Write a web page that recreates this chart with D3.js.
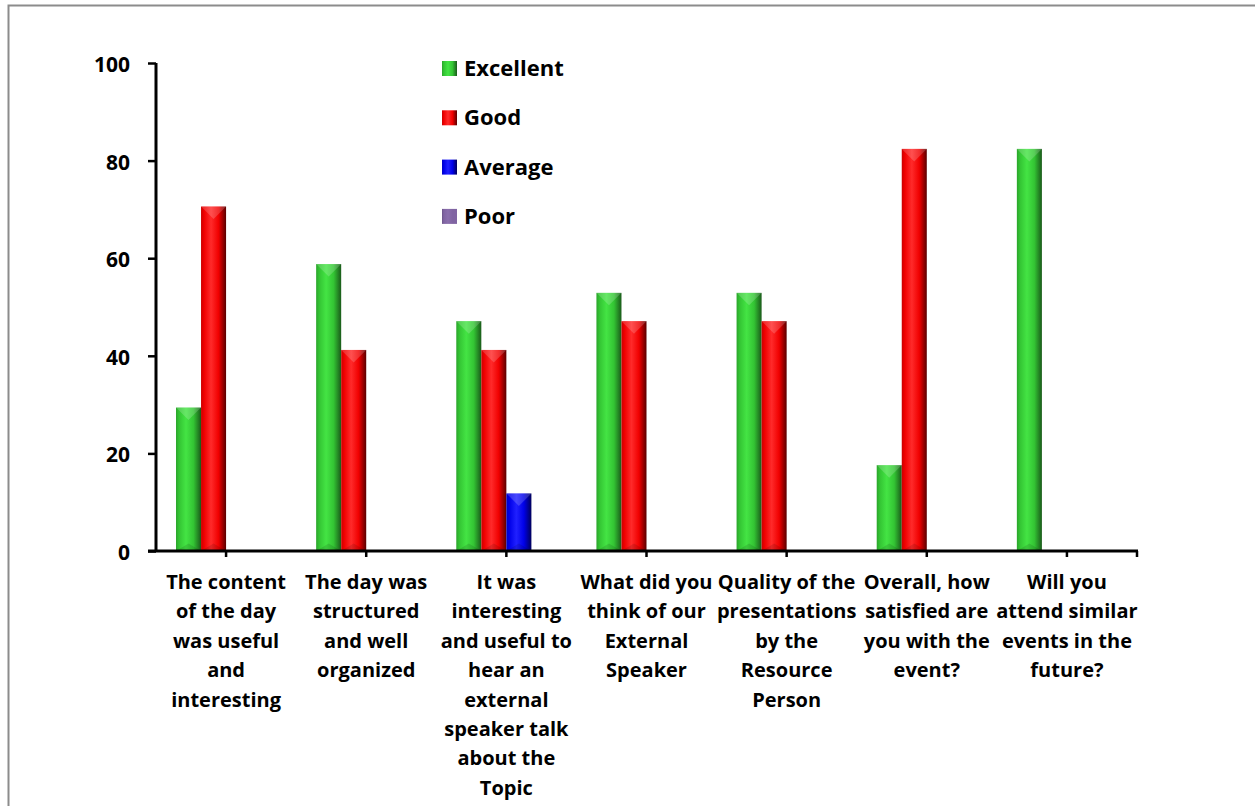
<!DOCTYPE html>
<html>
<head>
<meta charset="utf-8">
<script src="https://cdn.jsdelivr.net/npm/d3@7"></script>
<style>
  body { margin: 0; background: #fff; }
  svg { display: block; font-family: "Open Sans", Lato, sans-serif; font-weight: bold; }
</style>
</head>
<body>
<svg id="chart" width="1255" height="806"></svg>
<script>
// categories, each split into label lines as in the original
const categories = [
  ['The content', 'of the day', 'was useful', 'and', 'interesting'],
  ['The day was', 'structured', 'and well', 'organized'],
  ['It was', 'interesting', 'and useful to', 'hear an', 'external', 'speaker talk', 'about the', 'Topic'],
  ['What did you', 'think of our', 'External', 'Speaker'],
  ['Quality of the', 'presentations', 'by the', 'Resource', 'Person'],
  ['Overall, how', 'satisfied are', 'you with the', 'event?'],
  ['Will you', 'attend similar', 'events in the', 'future?']
];
const seriesNames = ['Excellent', 'Good', 'Average', 'Poor'];
const excellent = [29.4, 58.8, 47.1, 52.9, 52.9, 17.6, 82.4];
const good = [70.6, 41.2, 41.2, 47.1, 47.1, 82.4, 0];
const average = [0, 0, 11.8, 0, 0, 0, 0];
const poor = [0, 0, 0, 0, 0, 0, 0];
const yTicks = [0, 20, 40, 60, 80, 100];

const seriesValues = [excellent, good, average, poor];
// base, light, dark
const palette = [
  ['#33c433', '#44e444', '#1a5a1a'],
  ['#f00000', '#ff2a2a', '#5a0000'],
  ['#0000e8', '#2020ff', '#00005a'],
  ['#8064a2', '#8a6eac', '#8064a2']
];

const svg = d3.select('#chart');

// outer frame
svg.append('path')
  .attr('d', 'M8.5,806 L8.5,5.5 L1255,5.5')
  .attr('fill', 'none')
  .attr('stroke', '#8c8c8c')
  .attr('stroke-width', 2);

const plotLeft = 156, plotRight = 1137, plotTop = 63, plotBottom = 551;

const x0 = d3.scaleBand().domain(d3.range(categories.length)).range([plotLeft, plotRight]).paddingInner(0).paddingOuter(0);
const x1 = d3.scaleBand().domain(d3.range(seriesNames.length)).range([20, x0.bandwidth() - 20]);
const y = d3.scaleLinear().domain([0, 100]).range([plotBottom, plotTop]);

// gradients
const defs = svg.append('defs');
palette.forEach(function (c, i) {
  const g = defs.append('linearGradient').attr('id', 'grad' + i).attr('x1', 0).attr('x2', 1).attr('y1', 0).attr('y2', 0);
  g.append('stop').attr('offset', '0%').attr('stop-color', d3.color(c[0]).darker(0.5));
  g.append('stop').attr('offset', '12%').attr('stop-color', c[0]);
  g.append('stop').attr('offset', '40%').attr('stop-color', c[1]);
  g.append('stop').attr('offset', '70%').attr('stop-color', c[0]);
  g.append('stop').attr('offset', '100%').attr('stop-color', c[2]);
});

// bars
const groups = svg.append('g').selectAll('g')
  .data(categories)
  .join('g')
  .attr('transform', (d, i) => 'translate(' + x0(i) + ',0)');

groups.each(function (cat, ci) {
  const g = d3.select(this);
  seriesValues.forEach(function (vals, si) {
    const v = vals[ci];
    if (!v) return;
    const bx = x1(si), bw = x1.bandwidth(), by = y(v), bh = y(0) - y(v);
    g.append('rect')
      .attr('x', bx).attr('y', by)
      .attr('width', bw).attr('height', bh)
      .attr('fill', 'url(#grad' + si + ')');
    // top bevel
    const bev = Math.min(bw / 2, bh / 2);
    g.append('path')
      .attr('d', 'M' + bx + ',' + by + ' L' + (bx + bw) + ',' + by + ' L' + (bx + bw / 2) + ',' + (by + bev) + ' Z')
      .attr('fill', '#fff').attr('opacity', 0.18);
    // bottom bevel
    g.append('path')
      .attr('d', 'M' + bx + ',' + (by + bh) + ' L' + (bx + bw) + ',' + (by + bh) + ' L' + (bx + bw / 2) + ',' + (by + bh - bev * 0.6) + ' Z')
      .attr('fill', '#000').attr('opacity', 0.12);
  });
});

// y axis
const yAxis = svg.append('g')
  .attr('transform', 'translate(' + plotLeft + ',0)')
  .call(d3.axisLeft(y).tickValues(yTicks).tickSize(8).tickPadding(18));
yAxis.select('.domain').attr('stroke', '#000').attr('stroke-width', 3).attr('d', 'M0,' + plotBottom + 'V' + plotTop);
yAxis.selectAll('.tick line').attr('stroke', '#000').attr('stroke-width', 2.5);
yAxis.selectAll('.tick text')
  .attr('fill', '#000').attr('font-size', 21).attr('dy', '0.4em')
  .attr('font-family', '"Open Sans", sans-serif').attr('font-weight', 'bold');

// x axis
const xAxis = svg.append('g');
xAxis.append('line')
  .attr('x1', plotLeft - 8).attr('x2', plotRight + 1)
  .attr('y1', plotBottom).attr('y2', plotBottom)
  .attr('stroke', '#000').attr('stroke-width', 3);
const xTickPos = categories.map((d, i) => x0(i) + x0.bandwidth() / 2).concat([plotRight]);
xAxis.selectAll('.xtick')
  .data(xTickPos)
  .join('line')
  .attr('x1', d => d).attr('x2', d => d)
  .attr('y1', plotBottom).attr('y2', plotBottom + 6)
  .attr('stroke', '#000').attr('stroke-width', 2.5);

// category labels
svg.append('g').selectAll('text')
  .data(categories)
  .join('text')
  .attr('text-anchor', 'middle')
  .attr('font-size', 20)
  .attr('fill', '#000')
  .each(function (lines, i) {
    const t = d3.select(this);
    lines.forEach(function (line, li) {
      t.append('tspan')
        .attr('x', x0(i) + x0.bandwidth() / 2)
        .attr('y', 589 + li * 29.4)
        .text(line);
    });
  });

// legend
const legend = svg.append('g').attr('transform', 'translate(442,61)');
const item = legend.selectAll('g')
  .data(seriesNames)
  .join('g')
  .attr('transform', (d, i) => 'translate(0,' + (i * 49.3) + ')');
item.append('rect')
  .attr('width', 15).attr('height', 15)
  .attr('fill', (d, i) => 'url(#grad' + i + ')');
item.append('text')
  .attr('x', 22).attr('y', 15)
  .attr('font-size', 22)
  .attr('fill', '#000')
  .text(d => d);
</script>
</body>
</html>
